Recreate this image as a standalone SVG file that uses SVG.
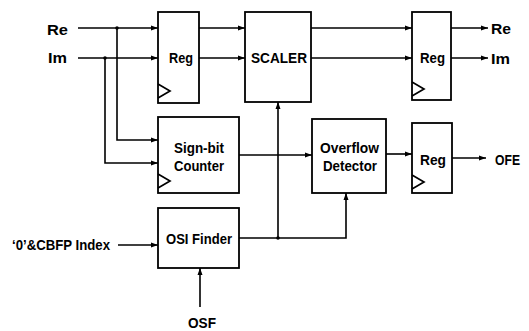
<svg xmlns="http://www.w3.org/2000/svg" width="529" height="331" viewBox="0 0 529 331">
<defs>
<marker id="ah" markerWidth="8" markerHeight="6" refX="7" refY="3" orient="auto" markerUnits="userSpaceOnUse">
<path d="M0,0.5 L7,3 L0,5.5 Z" fill="#000"/>
</marker>
<style>
.box{fill:#fff;stroke:#000;stroke-width:1.8}
.clk{fill:none;stroke:#000;stroke-width:1.7}
.w{fill:none;stroke:#000;stroke-width:1.6}
.a{marker-end:url(#ah)}
text{font-family:"Liberation Sans",Arial,sans-serif;font-weight:bold;font-size:15px;fill:#000}
</style>
</defs>
<rect width="529" height="331" fill="#fff"/>
<g id="connectors">
<path class="w a" d="M78,28 H158"/>
<path class="w a" d="M78,58 H158"/>
<path class="w a" d="M117,28 V140 H158"/>
<path class="w a" d="M105,58 V163 H158"/>
<path class="w a" d="M199,28 H245"/>
<path class="w a" d="M199,58 H245"/>
<path class="w a" d="M311,28 H412"/>
<path class="w a" d="M311,58 H412"/>
<path class="w a" d="M451,28 H488"/>
<path class="w a" d="M451,58 H488"/>
<path class="w a" d="M239,155 H312"/>
<path class="w a" d="M386,154 H412"/>
<path class="w a" d="M452,158 H486"/>
<path class="w a" d="M239,238 H278 V102"/>
<path class="w a" d="M278,238 H346 V193"/>
<path class="w a" d="M118,245 H158"/>
<path class="w a" d="M200,307 V268"/>
<circle cx="117" cy="28" r="1.8"/>
<circle cx="105" cy="58" r="1.8"/>
<circle cx="278" cy="238" r="1.8"/>
</g>
<g id="reg1">
<rect class="box" x="158" y="12" width="41" height="91"/>
<path class="clk" d="M158,84 L170,91 L158,98"/>
<text x="169" y="63" textLength="24" lengthAdjust="spacingAndGlyphs">Reg</text>
</g>
<g id="scaler">
<rect class="box" x="245" y="12" width="66" height="90"/>
<text x="251" y="63" textLength="56" lengthAdjust="spacingAndGlyphs">SCALER</text>
</g>
<g id="reg2">
<rect class="box" x="412" y="12" width="39" height="88"/>
<path class="clk" d="M412,82 L424,89 L412,96"/>
<text x="420" y="63" textLength="25" lengthAdjust="spacingAndGlyphs">Reg</text>
</g>
<g id="signbit">
<rect class="box" x="158" y="117" width="81" height="76"/>
<path class="clk" d="M158,174 L170,181 L158,188"/>
<text x="174" y="153" textLength="50" lengthAdjust="spacingAndGlyphs">Sign-bit</text>
<text x="174" y="171" textLength="50" lengthAdjust="spacingAndGlyphs">Counter</text>
</g>
<g id="overflow">
<rect class="box" x="312" y="119" width="74" height="74"/>
<text x="320" y="153" textLength="59" lengthAdjust="spacingAndGlyphs">Overflow</text>
<text x="323" y="171" textLength="54" lengthAdjust="spacingAndGlyphs">Detector</text>
</g>
<g id="reg3">
<rect class="box" x="412" y="123" width="40" height="70"/>
<path class="clk" d="M412,175 L424,182 L412,189"/>
<text x="420" y="165" textLength="26" lengthAdjust="spacingAndGlyphs">Reg</text>
</g>
<g id="osi">
<rect class="box" x="158" y="208" width="81" height="60"/>
<text x="166" y="244" textLength="66" lengthAdjust="spacingAndGlyphs">OSI Finder</text>
</g>
<g id="labels">
<text x="47" y="35" textLength="21" lengthAdjust="spacingAndGlyphs">Re</text>
<text x="48" y="63" textLength="19" lengthAdjust="spacingAndGlyphs">Im</text>
<text x="491" y="34" textLength="20" lengthAdjust="spacingAndGlyphs">Re</text>
<text x="491" y="64" textLength="19" lengthAdjust="spacingAndGlyphs">Im</text>
<text x="495" y="165" textLength="25" lengthAdjust="spacingAndGlyphs">OFE</text>
<text x="12" y="250" textLength="98" lengthAdjust="spacingAndGlyphs" style="font-size:14px">‘0’&amp;CBFP Index</text>
<text x="188" y="328" textLength="28" lengthAdjust="spacingAndGlyphs">OSF</text>
</g>
</svg>
